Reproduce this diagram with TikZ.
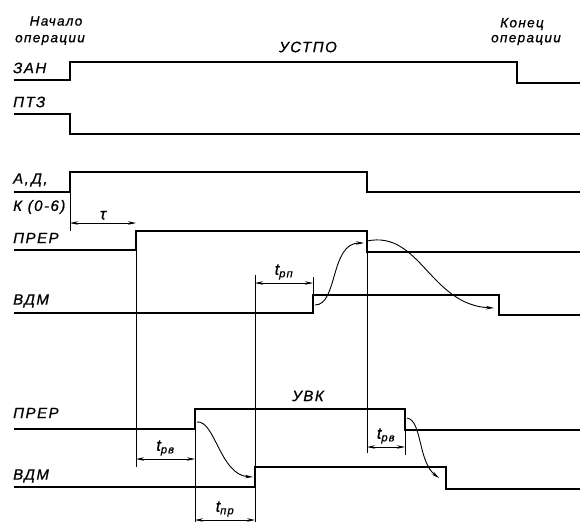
\documentclass[tikz,border=0pt]{standalone}
\usepackage{fontspec}
\setmainfont{Liberation Sans}
\newfontfamily\gost[LetterSpace=10,FakeBold=0.8]{Liberation Sans}
\usetikzlibrary{arrows.meta}
\tikzset{
  sig/.style={line width=2.5pt,line join=miter},
  ext/.style={line width=0.8pt},
  dim/.style={line width=0.8pt,{Stealth[length=8pt,width=3.5pt]}-{Stealth[length=8pt,width=3.5pt]}},
  flow/.style={line width=0.9pt,-{Stealth[length=8pt,width=3.5pt]}},
  lbl/.style={font={\gost\fontsize{15}{17}\selectfont\itshape},inner sep=0pt,anchor=west},
  note/.style={font={\gost\fontsize{13.5}{15}\selectfont\itshape},inner sep=0pt},
  dimlbl/.style={font={\gost\fontsize{16}{18}\selectfont\itshape},inner sep=1pt}
}
\begin{document}
\begin{tikzpicture}[x=1pt,y=-1pt]
  \useasboundingbox (0,0) rectangle (580,523);
  % notes
  \node[note] (nach) at (56,21) {Начало};
  \node[note] (nachop) at (50,40) {операции};
  \node[note] (kon) at (522,24) {Конец};
  \node[note] (konop) at (526,40) {операции};
  \node[lbl,anchor=center] (ustpo) at (308,47) {УСТПО};
  \node[lbl,anchor=center] (uvk) at (308,396) {УВК};
  % signal names
  \node[lbl] (zan) at (13,68) {ЗАН};
  \node[lbl] (ptz) at (13,102) {ПТЗ};
  \node[lbl] (adk) at (13,180) {А,\,Д,};
  \node[lbl] (kk) at (13,207) {К (0-6)};
  \node[lbl] (prer) at (13,238) {ПРЕР};
  \node[lbl] (vdm) at (13,301) {ВДМ};
  \node[lbl] (prerb) at (13,413) {ПРЕР};
  \node[lbl] (vdmb) at (13,476) {ВДМ};
  % signals
  \draw[sig] (14,80) -| (70,62) -| (517,83) -- (580,83);
  \draw[sig] (14,114) -| (70,134) -- (580,134);
  \draw[sig] (14,192) -| (70,172) -| (367,192) -- (580,192);
  \draw[sig] (14,250) -| (136,231) -| (367,252) -- (580,252);
  \draw[sig] (14,313) -| (313,295) -| (499,315) -- (580,315);
  \draw[sig] (14,429) -| (195,409) -| (405,430) -- (580,430);
  \draw[sig] (14,487) -| (255,467) -| (446,489) -- (580,489);
  % extension lines
  \draw[ext] (70,192) -- (70,231);
  \draw[ext] (136,231) -- (136,467);
  \draw[ext] (255,275) -- (255,522);
  \draw[ext] (313,277) -- (313,295);
  \draw[ext] (367,252) -- (367,453);
  \draw[ext] (195,429) -- (195,522);
  \draw[ext] (405,430) -- (405,455);
  % dimensions
  \coordinate (tauA) at (70,223);  \coordinate (tauB) at (136,223);
  \coordinate (rpA) at (255,283);  \coordinate (rpB) at (313,283);
  \coordinate (rvA) at (136,459);  \coordinate (rvB) at (195,459);
  \coordinate (prA) at (195,520);  \coordinate (prB) at (255,520);
  \coordinate (rwA) at (367,447);  \coordinate (rwB) at (405,447);
  \draw[dim] (tauA) -- node[dimlbl,above=2pt] (tau) {τ} (tauB);
  \draw[dim] (rpA) -- node[dimlbl,above=2pt] (trp) {t\textsubscript{рп}} (rpB);
  \draw[dim] (rvA) -- node[dimlbl,above=2pt] (trv) {t\textsubscript{рв}} (rvB);
  \draw[dim] (prA) -- node[dimlbl,above=2pt] (tpr) {t\textsubscript{пр}} (prB);
  \draw[dim] (rwA) -- node[dimlbl,above=2pt] (trw) {t\textsubscript{рв}} (rwB);
  % causal arrows
  \draw[flow] (315,305) .. controls (338,305) and (330,243) .. (364,243);
  \draw[flow] (367,241) .. controls (420,230) and (430,305) .. (494,308);
  \draw[flow] (197,422) .. controls (215,420) and (220,475) .. (253,477);
  \draw[flow] (407,418) .. controls (422,420) and (418,462) .. (439,478);
\end{tikzpicture}
\end{document}
